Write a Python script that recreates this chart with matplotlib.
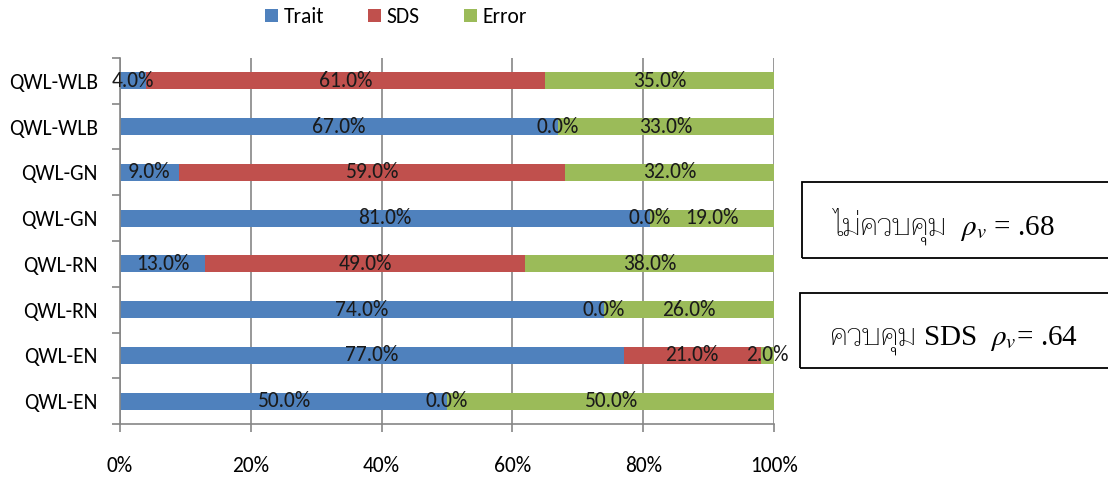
import matplotlib
matplotlib.use("Agg")
import matplotlib.pyplot as plt
import numpy as np
from matplotlib.patches import Rectangle

categories = ["QWL-EN", "QWL-EN", "QWL-RN", "QWL-RN", "QWL-GN", "QWL-GN", "QWL-WLB", "QWL-WLB"]
trait = [50.0, 77.0, 74.0, 13.0, 81.0, 9.0, 67.0, 4.0]
sds = [0.0, 21.0, 0.0, 49.0, 0.0, 59.0, 0.0, 61.0]
error = [50.0, 2.0, 26.0, 38.0, 19.0, 32.0, 33.0, 35.0]
series_names = ["Trait", "SDS", "Error"]
colors = ["#4F81BD", "#C0504D", "#9BBB59"]
x_ticks = [0, 20, 40, 60, 80, 100]
x_labels = ["0%", "20%", "40%", "60%", "80%", "100%"]
thai_parts = ["ไม่ควบคุม", "ควบคุม"]
math_parts = ["  $\\rho_v$ = .68", " SDS  $\\rho_v$= .64"]

label_font = ["Carlito", "Lato"]
fs = 15.5
thai_fonts = ["Taviraj", "Trirong", "Noto Serif Thai", "Sarabun", "Pridi",
              "Noto Sans Thai Looped", "Athiti", "Anuphan"]

fig = plt.figure(figsize=(11.08, 4.78), dpi=100)
ax = fig.add_axes([120 / 1108, 1 - 424 / 478, 654 / 1108, 366 / 478])

y = np.arange(len(categories))
left = np.zeros(len(categories))
handles = []
for vals, name, col in zip([trait, sds, error], series_names, colors):
    vals = np.array(vals)
    h = ax.barh(y, vals, left=left, height=0.37, color=col, label=name, zorder=2)
    handles.append(h)
    for yi, l, v in zip(y, left, vals):
        ax.text(l + v / 2, yi, f"{v:.1f}%", ha="center", va="center",
                fontsize=fs, family=label_font, color="#1a1a1a", zorder=3)
    left = left + vals

ax.set_xlim(0, 100)
ax.set_ylim(-0.5, len(categories) - 0.5)
ax.set_xticks(x_ticks)
ax.set_xticklabels(x_labels, family=label_font, fontsize=fs)
ax.set_yticks(y)
ax.set_yticklabels(categories, family=label_font, fontsize=fs)
ax.set_yticks(np.arange(-0.5, len(categories), 1.0), minor=True)
ax.tick_params(axis="y", which="major", length=0, pad=16)
ax.tick_params(axis="y", which="minor", length=5.5, width=1.2, color="#868686", direction="out")
ax.tick_params(axis="x", which="major", length=6, width=1.2, color="#868686", direction="out", pad=17)
ax.grid(axis="x", color="#868686", linewidth=1.2, zorder=0)
for s in ["top", "right"]:
    ax.spines[s].set_visible(False)
for s in ["left", "bottom"]:
    ax.spines[s].set_color("#868686")
    ax.spines[s].set_linewidth(1.2)

fig.legend(handles, series_names, loc="center", bbox_to_anchor=(396 / 1108, 1 - 17 / 478),
           ncol=3, frameon=False, prop={"family": label_font, "size": fs},
           handlelength=0.6, handleheight=0.6, handletextpad=0.25, columnspacing=2.05)

# annotation boxes: Thai wording followed by the coefficient
fig.canvas.draw()
renderer = fig.canvas.get_renderer()
for (x0, y0, y1, base, start, tx, mx) in [(802, 182, 258, 235, 834, thai_parts[0], math_parts[0]),
                                           (800, 293, 368, 345, 830, thai_parts[1], math_parts[1])]:
    fig.patches.append(Rectangle((x0 / 1108, 1 - y1 / 478), (1112 - x0) / 1108, (y1 - y0) / 478,
                                 transform=fig.transFigure, fill=False,
                                 edgecolor="black", linewidth=1.3))
    t1 = fig.text(start / 1108, 1 - base / 478, tx, ha="left", va="baseline",
                  fontsize=22, family=thai_fonts, fontweight="light")
    ext = t1.get_window_extent(renderer)
    fig.text(ext.x1 / 1108, 1 - base / 478, mx, ha="left", va="baseline",
             fontsize=21, math_fontfamily="stix", family="Liberation Serif")

fig.savefig("out.png", dpi=100)
